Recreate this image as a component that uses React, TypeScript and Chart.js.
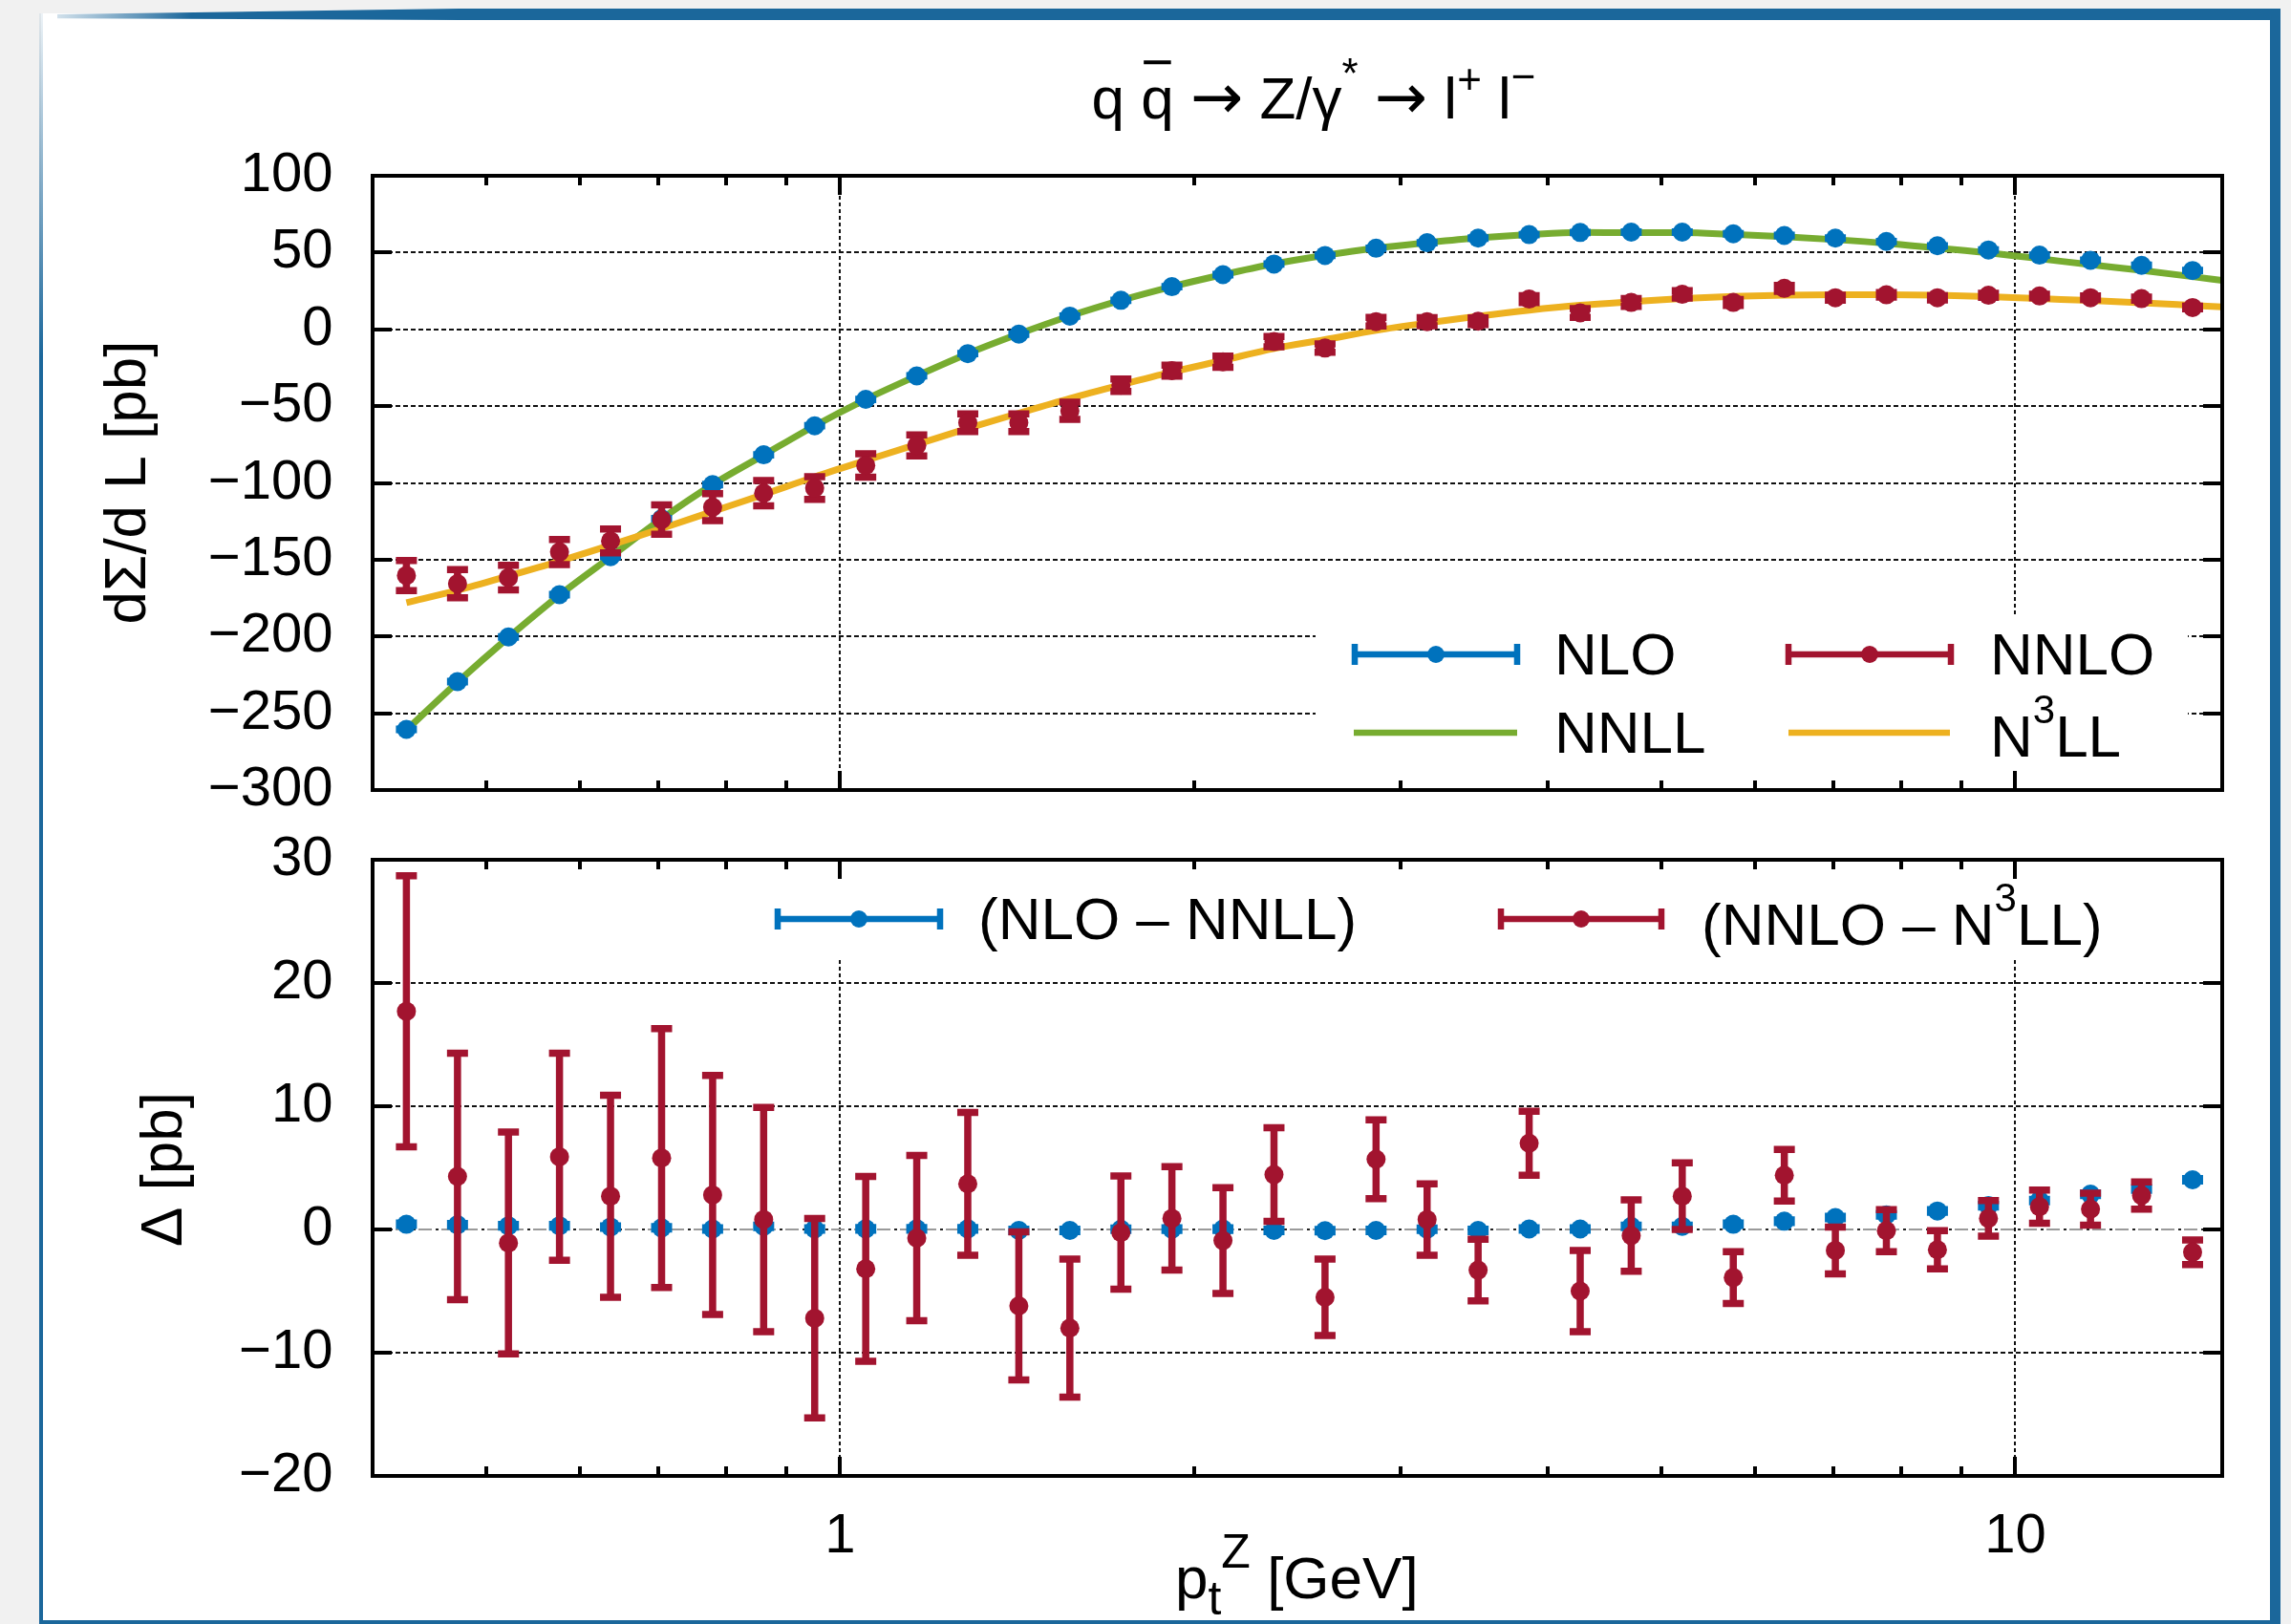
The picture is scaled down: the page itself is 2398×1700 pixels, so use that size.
import React, { useEffect, useRef } from "react";
import { Chart, registerables } from "chart.js";

Chart.register(...registerables);

// ---------------- data ----------------
// bin centres in pT^Z [GeV]
const PT = [
  0.4274, 0.4724, 0.522, 0.5769, 0.6376, 0.7047, 0.7788, 0.8607, 0.9512,
  1.0513, 1.1618, 1.284, 1.4191, 1.5683, 1.7333, 1.9155, 2.117, 2.3396,
  2.5857, 2.8577, 3.1582, 3.4903, 3.8574, 4.2631, 4.7115, 5.207, 5.7546,
  6.3598, 7.0287, 7.7679, 8.5849, 9.4877, 10.486, 11.588, 12.807, 14.154,
];
// the resummed curves continue to the right edge of the plot
const CURVE_END_PT = 15;

const NLO = [
  -260.5, -229.4, -200.3, -172.8, -148.0, -123.3, -101.1, -81.7, -62.8,
  -45.6, -30.3, -15.8, -3.1, 8.6, 18.9, 27.8, 35.6, 42.5, 48.1, 52.8, 56.4,
  59.4, 61.7, 63.1, 63.3, 63.3, 62.2, 61.1, 59.4, 57.2, 54.4, 51.7, 48.3,
  45.0, 41.7, 38.3,
];
const NLO_ERR = [
  0.1, 0.1, 0.1, 0.1, 0.1, 0.1, 0.1, 0.1, 0.1, 0.1, 0.1, 0.1, 0.1, 0.1, 0.1,
  0.1, 0.1, 0.1, 0.1, 0.1, 0.1, 0.1, 0.1, 0.1, 0.1, 0.1, 0.1, 0.1, 0.1, 0.1,
  0.1, 0.1, 0.1, 0.1, 0.1, 0.1,
];
const NNLL = [
  -260.9, -229.8, -200.6, -173.1, -148.2, -123.4, -101.1, -81.9, -62.8,
  -45.6, -30.3, -15.8, -3.0, 8.7, 18.9, 27.8, 35.6, 42.6, 48.2, 52.9, 56.4,
  59.5, 61.7, 63.1, 63.0, 63.0, 61.8, 60.4, 58.4, 56.0, 52.9, 49.8, 46.0,
  42.1, 38.4, 34.3, 31.8,
];
const NNLO = [
  -160.3, -165.6, -161.7, -145.0, -137.8, -123.9, -115.8, -106.7, -103.3,
  -88.6, -75.6, -60.8, -60.8, -53.0, -36.4, -26.9, -21.1, -8.0, -12.2, 5.0,
  5.0, 5.3, 19.7, 10.7, 17.5, 22.8, 17.5, 26.7, 20.6, 22.5, 20.6, 22.2, 21.7,
  20.6, 20.0, 14.2,
];
const NNLO_ERR = [
  9.8, 9.2, 8.0, 8.2, 7.8, 9.6, 8.8, 8.2, 7.4, 7.6, 6.8, 5.8, 5.8, 5.6, 4.0,
  3.6, 3.7, 3.3, 2.7, 2.8, 2.6, 2.2, 2.3, 2.9, 2.6, 2.4, 1.9, 1.9, 1.7, 1.5,
  1.4, 1.3, 1.2, 1.15, 1.0, 0.9,
];
const N3LL = [
  -178.0, -169.9, -160.6, -150.9, -140.5, -129.7, -118.6, -107.5, -96.1,
  -85.4, -74.9, -64.5, -54.6, -45.0, -36.2, -27.8, -20.2, -12.5, -6.7, -0.7,
  4.2, 8.6, 12.5, 15.7, 18.0, 20.0, 21.4, 22.2, 22.5, 22.5, 22.2, 21.3, 20.0,
  18.8, 17.3, 15.6, 14.6,
];
const DIFF_NLO = [
  0.42, 0.38, 0.3, 0.3, 0.2, 0.13, 0.04, 0.25, 0.04, 0.05, 0.05, 0.05, -0.08,
  -0.08, 0.02, 0.03, 0.03, -0.08, -0.1, -0.08, 0.02, -0.08, 0.04, 0.04, 0.25,
  0.25, 0.42, 0.67, 0.97, 1.18, 1.5, 1.93, 2.35, 2.86, 3.28, 4.03,
];
const DIFF_NLO_ERR = [
  0.1, 0.1, 0.1, 0.1, 0.1, 0.1, 0.1, 0.1, 0.1, 0.1, 0.1, 0.1, 0.1, 0.1, 0.1,
  0.1, 0.1, 0.1, 0.1, 0.1, 0.1, 0.1, 0.1, 0.1, 0.1, 0.1, 0.1, 0.1, 0.1, 0.1,
  0.1, 0.1, 0.1, 0.1, 0.1, 0.1,
];
const DIFF_NNLO = [
  17.7, 4.3, -1.1, 5.9, 2.7, 5.8, 2.8, 0.8, -7.2, -3.2, -0.7, 3.7, -6.2, -8.0,
  -0.25, 0.9, -0.9, 4.45, -5.5, 5.7, 0.8, -3.3, 7.0, -5.0, -0.5, 2.7, -3.9,
  4.4, -1.7, -0.1, -1.65, 0.9, 1.85, 1.65, 2.75, -1.85,
];
const DIFF_NNLO_ERR = [
  11.0, 10.0, 9.0, 8.4, 8.2, 10.5, 9.7, 9.1, 8.1, 7.5, 6.7, 5.8, 6.0, 5.6,
  4.6, 4.2, 4.3, 3.8, 3.1, 3.2, 2.9, 2.5, 2.6, 3.3, 2.9, 2.7, 2.1, 2.1, 1.9,
  1.7, 1.55, 1.45, 1.35, 1.3, 1.1, 1.0,
];

// axes
const X_MIN = 0.4;
const X_MAX = 15;
const X_MAJOR = [1, 10];
const X_MINOR = [0.5, 0.6, 0.7, 0.8, 0.9, 2, 3, 4, 5, 6, 7, 8, 9];
const TOP_Y = { min: -300, max: 100, step: 50 };
const BOT_Y = { min: -20, max: 30, step: 10 };

// ---------------- styling / layout ----------------
const FONT = '"Liberation Sans", Arial, Helvetica, sans-serif';
const ARROW_FONT = '"DejaVu Sans", "Liberation Sans", sans-serif';
const BLUE = "#0072bd";
const RED = "#a2142f";
const GREEN = "#77ac30";
const ORANGE = "#edb120";
const FRAME_BLUE = "#1b679b";

const MARKER_R = 10;
const ERR_LW = 7.5;
const CAP_HALF = 11;
const CURVE_LW = 7;

const W = 2398;
const H = 1700;
const PLOT_LEFT = 390;
const PLOT_RIGHT = 2326;
const C1 = { top: 0, height: 910, areaTop: 184, areaBottom: 827 };
const C2 = { top: 820, height: 880, areaTop: 900, areaBottom: 1545 };

type Part = { t: string; size: number; dy?: number; bar?: boolean; family?: string };

function drawRich(ctx: any, parts: Part[], x: number, y: number, align: string) {
  ctx.save();
  ctx.fillStyle = "#000";
  ctx.textAlign = "left";
  ctx.textBaseline = "alphabetic";
  let total = 0;
  for (const p of parts) {
    ctx.font = `${p.size}px ${p.family || FONT}`;
    total += ctx.measureText(p.t).width;
  }
  let cx = align === "center" ? x - total / 2 : x;
  for (const p of parts) {
    ctx.font = `${p.size}px ${p.family || FONT}`;
    const pw = ctx.measureText(p.t).width;
    ctx.fillText(p.t, cx, y + (p.dy || 0));
    if (p.bar) ctx.fillRect(cx + 3, y - p.size * 0.98, pw - 6, 4);
    cx += pw;
  }
  ctx.restore();
}

function errSymbol(ctx: any, x1: number, x2: number, y: number, color: string) {
  ctx.save();
  ctx.setLineDash([]);
  ctx.strokeStyle = color;
  ctx.fillStyle = color;
  ctx.lineWidth = 6.5;
  ctx.beginPath();
  ctx.moveTo(x1, y);
  ctx.lineTo(x2, y);
  ctx.stroke();
  ctx.beginPath();
  ctx.moveTo(x1 + 3, y - 11);
  ctx.lineTo(x1 + 3, y + 11);
  ctx.moveTo(x2 - 3, y - 11);
  ctx.lineTo(x2 - 3, y + 11);
  ctx.stroke();
  ctx.beginPath();
  ctx.arc((x1 + x2) / 2, y, 9, 0, Math.PI * 2);
  ctx.fill();
  ctx.restore();
}

function lineSymbol(ctx: any, x1: number, x2: number, y: number, color: string) {
  ctx.save();
  ctx.setLineDash([]);
  ctx.strokeStyle = color;
  ctx.lineWidth = 6.5;
  ctx.beginPath();
  ctx.moveTo(x1, y);
  ctx.lineTo(x2, y);
  ctx.stroke();
  ctx.restore();
}

function makeDeco(kind: string) {
  const oy = kind === "top" ? C1.top : C2.top;
  return {
    id: "deco_" + kind,
    beforeDatasetsDraw(chart: any) {
      const { ctx, chartArea: a, scales } = chart;
      const xs = scales.x;
      const ys = scales.y;
      ctx.save();
      ctx.strokeStyle = "#111";
      ctx.lineWidth = 2;
      ctx.setLineDash([5, 3]);
      for (const t of ys.ticks) {
        const v = t.value;
        if (v <= ys.min || v >= ys.max) continue;
        if (kind === "bottom" && v === 0) continue;
        const y = Math.round(ys.getPixelForValue(v));
        ctx.beginPath();
        ctx.moveTo(a.left, y);
        ctx.lineTo(a.right, y);
        ctx.stroke();
      }
      ctx.setLineDash([4, 3]);
      for (const v of X_MAJOR) {
        const x = Math.round(xs.getPixelForValue(v));
        ctx.beginPath();
        ctx.moveTo(x, a.top);
        ctx.lineTo(x, a.bottom);
        ctx.stroke();
      }
      if (kind === "bottom") {
        const y = Math.round(ys.getPixelForValue(0));
        ctx.lineWidth = 2;
        ctx.strokeStyle = "#9a9a9a";
        ctx.setLineDash([14, 10]);
        ctx.lineDashOffset = 0;
        ctx.beginPath();
        ctx.moveTo(a.left, y);
        ctx.lineTo(a.right, y);
        ctx.stroke();
        ctx.strokeStyle = "#222";
        ctx.setLineDash([3, 21]);
        ctx.lineDashOffset = -18;
        ctx.beginPath();
        ctx.moveTo(a.left, y);
        ctx.lineTo(a.right, y);
        ctx.stroke();
      }
      ctx.restore();
    },
    beforeDatasetDraw(chart: any, args: any) {
      const ds = chart.data.datasets[args.index];
      if (!ds.errors) return;
      const ys = chart.scales.y;
      const ctx = chart.ctx;
      ctx.save();
      ctx.setLineDash([]);
      ctx.strokeStyle = ds.pointBackgroundColor;
      ctx.lineWidth = ERR_LW;
      args.meta.data.forEach((el: any, i: number) => {
        const v = ds.data[i].y;
        const e = ds.errors[i];
        const x = el.x;
        const y1 = ys.getPixelForValue(v + e);
        const y2 = ys.getPixelForValue(v - e);
        ctx.beginPath();
        ctx.moveTo(x, y1);
        ctx.lineTo(x, y2);
        ctx.moveTo(x - CAP_HALF, y1);
        ctx.lineTo(x + CAP_HALF, y1);
        ctx.moveTo(x - CAP_HALF, y2);
        ctx.lineTo(x + CAP_HALF, y2);
        ctx.stroke();
      });
      ctx.restore();
    },
    afterDatasetsDraw(chart: any) {
      const { ctx, chartArea: a } = chart;
      ctx.save();
      ctx.fillStyle = "#fff";
      if (kind === "top") {
        ctx.fillRect(1377, 643 - oy, 2290 - 1377, a.bottom - (643 - oy));
        errSymbol(ctx, 1415, 1591, 685 - oy, BLUE);
        errSymbol(ctx, 1869, 2045, 685 - oy, RED);
        lineSymbol(ctx, 1417, 1588, 767 - oy, GREEN);
        lineSymbol(ctx, 1872, 2041, 767 - oy, ORANGE);
        drawRich(ctx, [{ t: "NLO", size: 62 }], 1627, 706 - oy, "left");
        drawRich(ctx, [{ t: "NNLO", size: 62 }], 2083, 706 - oy, "left");
        drawRich(ctx, [{ t: "NNLL", size: 62 }], 1627, 788 - oy, "left");
        drawRich(
          ctx,
          [
            { t: "N", size: 62 },
            { t: "3", size: 42, dy: -35 },
            { t: "LL", size: 62 },
          ],
          2083,
          792 - oy,
          "left"
        );
      } else {
        ctx.fillRect(780, a.top + 2, 2270 - 780, 1003 - oy - (a.top + 2));
        errSymbol(ctx, 811, 987, 962 - oy, BLUE);
        errSymbol(ctx, 1568, 1742, 962 - oy, RED);
        drawRich(ctx, [{ t: "(NLO \u2013 NNLL)", size: 62 }], 1024, 983 - oy, "left");
        drawRich(
          ctx,
          [
            { t: "(NNLO \u2013 N", size: 62 },
            { t: "3", size: 42, dy: -35 },
            { t: "LL)", size: 62 },
          ],
          1781,
          989 - oy,
          "left"
        );
      }
      ctx.restore();
    },
    afterDraw(chart: any) {
      const { ctx, chartArea: a, scales } = chart;
      const xs = scales.x;
      const ys = scales.y;
      ctx.save();
      ctx.setLineDash([]);
      ctx.strokeStyle = "#000";
      ctx.lineWidth = 4;
      ctx.strokeRect(a.left, a.top, a.right - a.left, a.bottom - a.top);
      ctx.beginPath();
      for (const t of ys.ticks) {
        const v = t.value;
        if (v <= ys.min || v >= ys.max) continue;
        const y = Math.round(ys.getPixelForValue(v));
        ctx.moveTo(a.left, y);
        ctx.lineTo(a.left + 20, y);
        ctx.moveTo(a.right - 20, y);
        ctx.lineTo(a.right, y);
      }
      for (const v of X_MAJOR) {
        const x = Math.round(xs.getPixelForValue(v));
        ctx.moveTo(x, a.bottom);
        ctx.lineTo(x, a.bottom - 20);
        ctx.moveTo(x, a.top);
        ctx.lineTo(x, a.top + 20);
      }
      for (const v of X_MINOR) {
        const x = Math.round(xs.getPixelForValue(v));
        ctx.moveTo(x, a.bottom);
        ctx.lineTo(x, a.bottom - 10);
        ctx.moveTo(x, a.top);
        ctx.lineTo(x, a.top + 10);
      }
      ctx.stroke();

      ctx.fillStyle = "#000";
      if (kind === "top") {
        drawRich(
          ctx,
          [
            { t: "q ", size: 62 },
            { t: "q", size: 62, bar: true },
            { t: " ", size: 62 },
            { t: "\u2192", size: 66, family: ARROW_FONT },
            { t: " Z/\u03b3", size: 62 },
            { t: "*", size: 44, dy: -32 },
            { t: " ", size: 62 },
            { t: "\u2192", size: 66, family: ARROW_FONT },
            { t: " l", size: 62 },
            { t: "+", size: 44, dy: -26 },
            { t: " l", size: 62 },
            { t: "\u2212", size: 44, dy: -29 },
          ],
          1375,
          124 - oy,
          "center"
        );
        ctx.save();
        ctx.translate(152, 505 - oy);
        ctx.rotate(-Math.PI / 2);
        ctx.font = `62px ${FONT}`;
        ctx.textAlign = "center";
        ctx.textBaseline = "alphabetic";
        ctx.fillText("d\u03a3/d L [pb]", 0, 0);
        ctx.restore();
      } else {
        ctx.save();
        ctx.translate(190, 1224 - oy);
        ctx.rotate(-Math.PI / 2);
        ctx.font = `62px ${FONT}`;
        ctx.textAlign = "center";
        ctx.textBaseline = "alphabetic";
        ctx.fillText("\u0394 [pb]", 0, 0);
        ctx.restore();
        drawRich(
          ctx,
          [
            { t: "p", size: 62 },
            { t: "t", size: 50, dy: 17 },
            { t: "Z", size: 50, dy: -32 },
            { t: " [GeV]", size: 62 },
          ],
          1230,
          1673 - oy,
          "left"
        );
      }
      ctx.restore();
    },
  };
}

function pts(xs: number[], ys: number[]) {
  return ys.map((y, i) => ({ x: xs[i], y }));
}

function scatterDs(label: string, xs: number[], ys: number[], errs: number[], color: string, order: number) {
  return {
    label,
    data: pts(xs, ys),
    errors: errs,
    showLine: false,
    pointRadius: MARKER_R,
    pointHoverRadius: MARKER_R,
    pointBorderWidth: 0,
    pointBackgroundColor: color,
    backgroundColor: color,
    borderColor: color,
    order,
  };
}

function curveDs(label: string, xs: number[], ys: number[], color: string, order: number) {
  return {
    label,
    data: pts(xs, ys),
    borderColor: color,
    backgroundColor: color,
    borderWidth: CURVE_LW,
    pointRadius: 0,
    pointHoverRadius: 0,
    cubicInterpolationMode: "monotone",
    fill: false,
    order,
  };
}

function fmtNum(v: any) {
  const n = Number(v);
  return n < 0 ? "\u2212" + Math.abs(n) : String(n);
}

function yScale(r: { min: number; max: number; step: number }) {
  return {
    type: "linear",
    min: r.min,
    max: r.max,
    ticks: {
      stepSize: r.step,
      padding: 41.5,
      color: "#000",
      font: { family: FONT, size: 58 },
      callback: (v: any) => fmtNum(v),
    },
    grid: { display: false, drawTicks: false },
    border: { display: false },
    afterFit: (s: any) => {
      s.width = PLOT_LEFT;
    },
  };
}

const CURVE_PT = [...PT, CURVE_END_PT];

function topConfig(): any {
  return {
    type: "line",
    data: {
      datasets: [
        scatterDs("NNLO", PT, NNLO, NNLO_ERR, RED, 0),
        scatterDs("NLO", PT, NLO, NLO_ERR, BLUE, 1),
        curveDs("N3LL", CURVE_PT, N3LL, ORANGE, 2),
        curveDs("NNLL", CURVE_PT, NNLL, GREEN, 3),
      ],
    },
    options: {
      responsive: false,
      animation: false,
      devicePixelRatio: 1,
      events: [],
      layout: {
        padding: {
          left: 0,
          top: C1.areaTop - C1.top,
          right: W - PLOT_RIGHT,
          bottom: C1.top + C1.height - C1.areaBottom,
        },
      },
      plugins: { legend: { display: false }, tooltip: { enabled: false }, title: { display: false } },
      scales: {
        x: { type: "logarithmic", min: X_MIN, max: X_MAX, display: false },
        y: yScale(TOP_Y),
      },
    },
    plugins: [makeDeco("top")],
  };
}

function bottomConfig(): any {
  const xh = C2.top + C2.height - C2.areaBottom;
  return {
    type: "line",
    data: {
      datasets: [
        scatterDs("(NNLO \u2013 N3LL)", PT, DIFF_NNLO, DIFF_NNLO_ERR, RED, 0),
        scatterDs("(NLO \u2013 NNLL)", PT, DIFF_NLO, DIFF_NLO_ERR, BLUE, 1),
      ],
    },
    options: {
      responsive: false,
      animation: false,
      devicePixelRatio: 1,
      events: [],
      layout: {
        padding: { left: 0, top: C2.areaTop - C2.top, right: W - PLOT_RIGHT, bottom: 0 },
      },
      plugins: { legend: { display: false }, tooltip: { enabled: false }, title: { display: false } },
      scales: {
        x: {
          type: "logarithmic",
          min: X_MIN,
          max: X_MAX,
          afterBuildTicks: (s: any) => {
            s.ticks = [...X_MINOR, ...X_MAJOR]
              .sort((p, q) => p - q)
              .map((v) => ({ value: v }));
          },
          afterFit: (s: any) => {
            s.height = xh;
          },
          grid: { display: false, drawTicks: false },
          border: { display: false },
          ticks: {
            autoSkip: false,
            maxRotation: 0,
            minRotation: 0,
            padding: 29,
            color: "#000",
            font: { family: FONT, size: 58 },
            callback: (v: any) => (X_MAJOR.includes(Number(v)) ? String(Number(v)) : ""),
          },
        },
        y: yScale(BOT_Y),
      },
    },
    plugins: [makeDeco("bottom")],
  };
}

export default function App() {
  const topRef = useRef<HTMLCanvasElement>(null);
  const botRef = useRef<HTMLCanvasElement>(null);

  useEffect(() => {
    document.body.style.margin = "0";
    document.body.style.overflow = "hidden";
    const c1 = new Chart(topRef.current as HTMLCanvasElement, topConfig());
    const c2 = new Chart(botRef.current as HTMLCanvasElement, bottomConfig());
    return () => {
      c1.destroy();
      c2.destroy();
    };
  }, []);

  return (
    <div
      style={{
        position: "absolute",
        left: 0,
        top: 0,
        width: W,
        height: H,
        background: "#f1f1f1",
        overflow: "hidden",
      }}
    >
      <div style={{ position: "absolute", left: 43, top: 14, width: 2376 - 43, height: 1697 - 14, background: "#fff" }} />
      <div
        style={{
          position: "absolute",
          left: 60,
          top: 9,
          width: 2387 - 60,
          height: 12,
          background: `linear-gradient(to right, rgba(27,103,155,0.2) 0px, ${FRAME_BLUE} 140px)`,
          clipPath: "polygon(0 50%, 420px 0, 100% 0, 100% 100%, 420px 100%, 0 85%)",
        }}
      />
      <div style={{ position: "absolute", left: 2376, top: 9, width: 11, height: H - 9, background: FRAME_BLUE }} />
      <div style={{ position: "absolute", left: 43, top: 1696, width: 2387 - 43, height: 4, background: FRAME_BLUE }} />
      <div
        style={{
          position: "absolute",
          left: 41,
          top: 14,
          width: 4,
          height: H - 14,
          background: `linear-gradient(to bottom, rgba(27,103,155,0.08) 0px, ${FRAME_BLUE} 360px)`,
        }}
      />
      <canvas
        ref={topRef}
        width={W}
        height={C1.height}
        style={{ position: "absolute", left: 0, top: C1.top, width: W, height: C1.height }}
      />
      <canvas
        ref={botRef}
        width={W}
        height={C2.height}
        style={{ position: "absolute", left: 0, top: C2.top, width: W, height: C2.height }}
      />
    </div>
  );
}
